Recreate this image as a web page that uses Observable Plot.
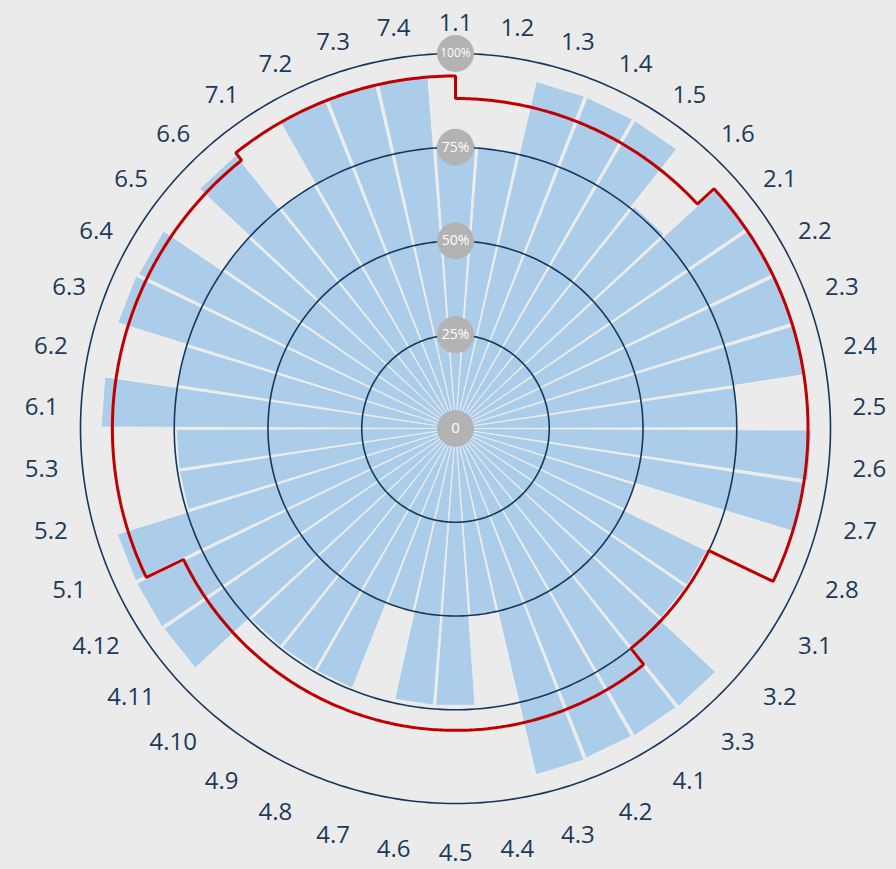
<!DOCTYPE html>
<html><head><meta charset="utf-8">
<script src="https://cdn.jsdelivr.net/npm/d3@7"></script>
<script src="https://cdn.jsdelivr.net/npm/@observablehq/plot@0.6"></script>
<style>
html,body{margin:0;padding:0;background:#ebebeb;}
#chart svg{display:block;}
</style></head><body><div id="chart"></div>
<script>
const categories = ["1.1","1.2","1.3","1.4","1.5","1.6",
  "2.1","2.2","2.3","2.4","2.5","2.6","2.7","2.8",
  "3.1","3.2","3.3",
  "4.1","4.2","4.3","4.4","4.5","4.6","4.7","4.8","4.9","4.10","4.11","4.12",
  "5.1","5.2","5.3",
  "6.1","6.2","6.3","6.4","6.5","6.6",
  "7.1","7.2","7.3","7.4"];
const values = [76, 75.5, 95, 95, 95, 76,
  94.5, 94.5, 94.5, 94.5, 75, 95, 94, 50,
  74.5, 74.5, 95,
  94.8, 94.5, 94.8, 50, 74, 74, 50, 74.5, 74.5, 74.5, 94.3, 94.5,
  94.5, 74.5, 74.5,
  94.5, 75, 94.4, 94, 75, 93.5,
  75, 94, 94.2, 94.3];
const groupNames = ["1","2","3","4","5","6","7"];
const groupTargets = [88, 94, 75, 80.5, 91.5, 91.5, 94];
const ringTicks = [25, 50, 75, 100];
const bubbleTicks = [0, 25, 50, 75, 100];
const bubbleLabels = ["0", "25%", "50%", "75%", "100%"];

const W = 896, H = 869, CX = 455, CY = 428, R100 = 375;
const unit = R100 / 100;
const n = categories.length;
const step = 2 * Math.PI / n;
const pol = (a, r) => ({x: r * Math.sin(a), y: r * Math.cos(a)});

// bar wedges
const pad = 0.0045;
const barPts = [];
categories.forEach((c, i) => {
  const a0 = (i - 0.5) * step + pad, a1 = (i + 0.5) * step - pad;
  barPts.push({cat: c, ...pol(0, 0)}, {cat: c, ...pol(a0, values[i])}, {cat: c, ...pol(a1, values[i])});
});

// rings
const ringPts = [];
ringTicks.forEach(t => {
  for (let k = 0; k < 360; k++) ringPts.push({ring: t, ...pol(k * Math.PI / 180, t)});
});

// red target line (step per group)
const redPts = [];
groupNames.forEach((g, k) => {
  const idx = categories.map((c, i) => c.split(".")[0] === g ? i : -1).filter(i => i >= 0);
  const first = idx[0], last = idx[idx.length - 1];
  const a0 = k === 0 ? 0 : (first - 0.5) * step;
  const a1 = k === groupNames.length - 1 ? 2 * Math.PI : (last + 0.5) * step;
  const m = Math.max(2, Math.ceil((a1 - a0) / (Math.PI / 360)));
  for (let j = 0; j <= m; j++) redPts.push(pol(a0 + (a1 - a0) * j / m, groupTargets[k]));
});

const bubbles = bubbleTicks.map((v, i) => ({x: 0, y: v, label: bubbleLabels[i]}));
const labelR = 415 / unit;
const labels = categories.map((c, i) => ({text: c, ...pol(i * step, labelR)}));

const chart = Plot.plot({
  width: W, height: H, margin: 0,
  style: {background: "#ebebeb", fontFamily: "'Open Sans', sans-serif"},
  x: {domain: [-CX / unit, (W - CX) / unit], range: [0, W], axis: null},
  y: {domain: [-(H - CY) / unit, CY / unit], range: [H, 0], axis: null},
  marks: [
    Plot.line(barPts, {x: "x", y: "y", z: "cat", fill: "#abcde9", stroke: "#f0f0f0", strokeWidth: 0.8, strokeLinejoin: "round", curve: "linear-closed"}),
    Plot.line(ringPts, {x: "x", y: "y", z: "ring", stroke: "#17375e", strokeWidth: 1.6, curve: "linear-closed"}),
    Plot.line(redPts, {x: "x", y: "y", stroke: "#c00000", strokeWidth: 3, strokeLinejoin: "miter", curve: "linear-closed"}),
    Plot.dot(bubbles, {x: "x", y: "y", r: 18.5, fill: "#b3b3b3", stroke: "none"}),
    Plot.text(bubbles, {x: "x", y: "y", text: "label", fill: "white", fontSize: d => d.label === "100%" ? 12 : d.label === "0" ? 15 : 14}),
    Plot.text(labels, {x: "x", y: "y", text: "text", fill: "#1b3a5c", fontSize: 24, dy: 10})
  ]
});
document.getElementById("chart").appendChild(chart);
</script></body></html>
